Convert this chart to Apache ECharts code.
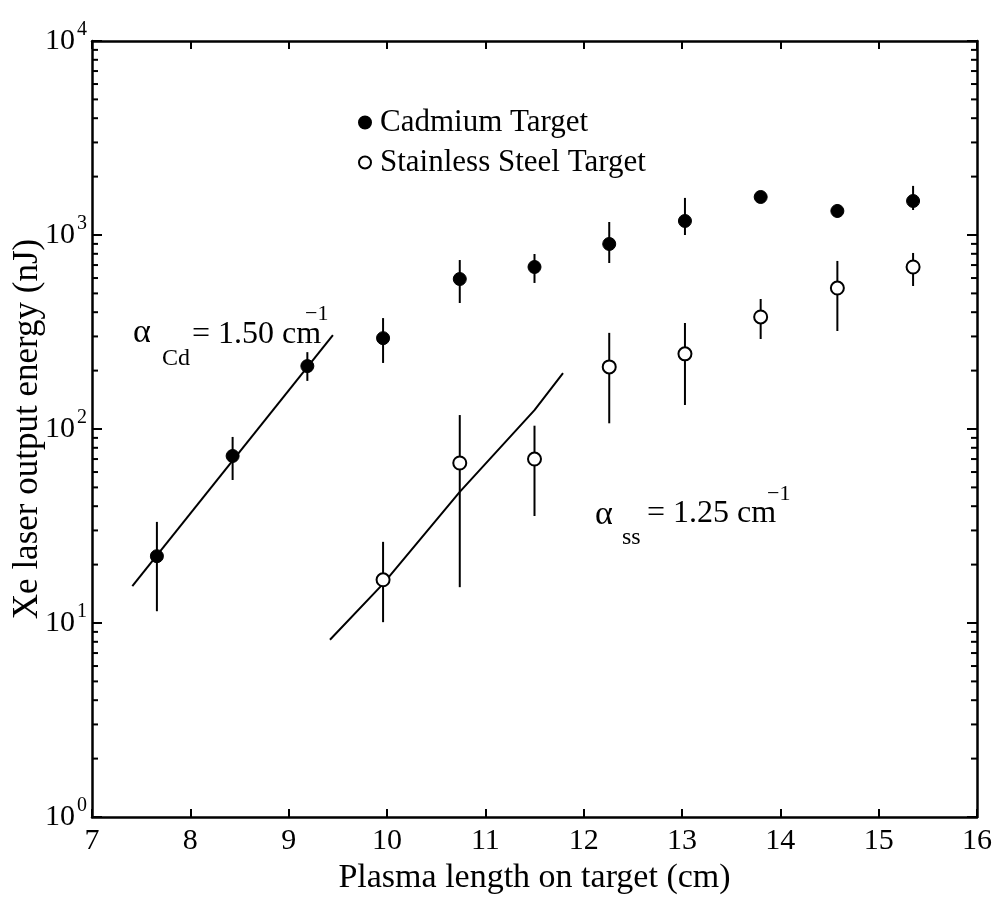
<!DOCTYPE html>
<html><head><meta charset="utf-8">
<script src="https://cdn.jsdelivr.net/npm/echarts@6/dist/echarts.min.js"></script>
<style>html,body{margin:0;padding:0;background:#fff}#c{width:997px;height:901px}</style>
</head><body><div id="c"></div>
<script>
// ---- data ----
const cdX   = [7.66, 8.43, 9.19, 9.96, 10.74, 11.50, 12.26, 13.03, 13.80, 14.58, 15.35];
const cdY   = [22.1, 72.6, 211, 294, 593, 684, 899, 1181, 1570, 1330, 1497];
const cdLo  = [11.5, 54.6, 177, 219, 446, 566, 717, 1000, 1480, 1230, 1345];
const cdHi  = [33.2, 91, 249, 373, 743, 798, 1167, 1553, 1670, 1440, 1791];

const ssX   = [9.96, 10.74, 11.50, 12.26, 13.03, 13.80, 14.58, 15.35];
const ssY   = [16.7, 66.8, 70, 209, 244, 378, 533, 684];
const ssLo  = [10.1, 15.3, 35.6, 107, 133, 291, 320, 546];
const ssHi  = [26.2, 118, 104, 313, 352, 468, 735, 808];

const cdFitX = [7.41, 9.45];
const cdFitY = [15.5, 305];
const ssFitX = [9.42, 9.96, 10.74, 11.50, 11.79];
const ssFitY = [8.2, 15.9, 47.4, 125, 194];

const xTicks = [7, 8, 9, 10, 11, 12, 13, 14, 15, 16];
const yDecades = [1, 10, 100, 1000];
const yMinorMult = [2, 3, 4, 5, 6, 7, 8, 9];

const seriesNames = ['Cadmium Target', 'Stainless Steel Target'];
// ---------------------------------------

const FF = 'Liberation Serif';
const zip = (a, b) => a.map((v, i) => [v, b[i]]);
const zip3 = (a, b, c) => a.map((v, i) => [v, b[i], c[i]]);

const minorVals = [];
yDecades.forEach(d => yMinorMult.forEach(m => minorVals.push([xTicks[0], d * m])));

function errRender(params, api) {
  const x = api.value(0), lo = api.value(1), hi = api.value(2);
  const p1 = api.coord([x, lo]), p2 = api.coord([x, hi]);
  return { type: 'line', shape: { x1: p1[0], y1: p1[1], x2: p2[0], y2: p2[1] },
           style: { stroke: '#000', lineWidth: 2 } };
}
function minorRender(params, api) {
  const cs = params.coordSys;
  const p = api.coord([api.value(0), api.value(1)]);
  const L = 6;
  return { type: 'group', children: [
    { type: 'line', shape: { x1: cs.x, y1: p[1], x2: cs.x + L, y2: p[1] }, style: { stroke: '#000', lineWidth: 2 } },
    { type: 'line', shape: { x1: cs.x + cs.width - L, y1: p[1], x2: cs.x + cs.width, y2: p[1] }, style: { stroke: '#000', lineWidth: 2 } }
  ]};
}

const axisLineStyle = { show: true, lineStyle: { color: '#000', width: 2.5 } };
const xMin = xTicks[0], xMax = xTicks[xTicks.length - 1];
const yMin = yDecades[0], yMax = yDecades[yDecades.length - 1] * 10;

const chart = echarts.init(document.getElementById('c'), null, { renderer: 'canvas' });
chart.setOption({
  backgroundColor: '#fff',
  animation: false,
  grid: { left: 92, right: 20, top: 41, bottom: 84, containLabel: false, outerBoundsMode: 'none' },
  legend: {
    orient: 'vertical', left: 353, top: 102, itemWidth: 20, itemHeight: 12, itemGap: 9,
    data: seriesNames,
    textStyle: { fontFamily: FF, fontSize: 31, color: '#000' }
  },
  xAxis: [
    { type: 'value', min: xMin, max: xMax, interval: 1, position: 'bottom',
      name: 'Plasma length on target (cm)', nameLocation: 'middle', nameGap: 42,
      nameTextStyle: { fontFamily: FF, fontSize: 34, color: '#000' },
      axisLine: axisLineStyle,
      axisTick: { inside: true, length: 8, lineStyle: { color: '#000', width: 2 } },
      axisLabel: { margin: 9, fontFamily: FF, fontSize: 30, color: '#000' },
      splitLine: { show: false } },
    { type: 'value', min: xMin, max: xMax, interval: 1, position: 'top',
      axisLine: axisLineStyle,
      axisTick: { inside: true, length: 8, lineStyle: { color: '#000', width: 2 } },
      axisLabel: { show: false }, splitLine: { show: false } }
  ],
  yAxis: [
    { type: 'log', logBase: 10, min: yMin, max: yMax, position: 'left',
      name: 'Xe laser output energy (nJ)', nameLocation: 'middle', nameGap: 47, nameMoveOverlap: false,
      nameTextStyle: { fontFamily: FF, fontSize: 35, color: '#000' },
      axisLine: axisLineStyle,
      axisTick: { inside: true, length: 10, lineStyle: { color: '#000', width: 2 } },
      axisLabel: {
        margin: 5,
        formatter: v => '{b|10}{e|' + Math.round(Math.log10(v)) + '}',
        rich: {
          b: { fontFamily: FF, fontSize: 30, color: '#000', lineHeight: 42 },
          e: { fontFamily: FF, fontSize: 20, color: '#000', verticalAlign: 'top', padding: [0, 0, 0, 2] }
        }
      },
      splitLine: { show: false } },
    { type: 'log', logBase: 10, min: yMin, max: yMax, position: 'right',
      axisLine: axisLineStyle,
      axisTick: { inside: true, length: 10, lineStyle: { color: '#000', width: 2 } },
      axisLabel: { show: false }, splitLine: { show: false } }
  ],
  series: [
    { type: 'custom', renderItem: minorRender, data: minorVals, encode: { x: 0, y: 1 }, silent: true, z: 1 },
    { type: 'line', data: zip(cdFitX, cdFitY), showSymbol: false, symbol: 'none',
      lineStyle: { color: '#000', width: 2 }, z: 2 },
    { type: 'line', data: zip(ssFitX, ssFitY), showSymbol: false, symbol: 'none',
      lineStyle: { color: '#000', width: 2 }, z: 2 },
    { type: 'custom', renderItem: errRender, data: zip3(cdX, cdLo, cdHi), encode: { x: 0, y: [1, 2] }, z: 3 },
    { type: 'custom', renderItem: errRender, data: zip3(ssX, ssLo, ssHi), encode: { x: 0, y: [1, 2] }, z: 3 },
    { name: seriesNames[0], type: 'scatter', data: zip(cdX, cdY), symbol: 'circle', symbolSize: 13,
      itemStyle: { color: '#000', borderColor: '#000', borderWidth: 1, opacity: 1 }, z: 4 },
    { name: seriesNames[1], type: 'scatter', data: zip(ssX, ssY), symbol: 'circle', symbolSize: 13,
      itemStyle: { color: '#fff', borderColor: '#000', borderWidth: 2, opacity: 1 }, z: 4 }
  ],
  graphic: [
    { type: 'text', x: 133, y: 333, style: { text: 'α', font: '34px "Liberation Serif"', fill: '#000', verticalAlign: 'middle' } },
    { type: 'text', x: 162, y: 359, style: { text: 'Cd', font: '24px "Liberation Serif"', fill: '#000', verticalAlign: 'middle' } },
    { type: 'text', x: 192, y: 335, style: { text: '= 1.50 cm', font: '32px "Liberation Serif"', fill: '#000', verticalAlign: 'middle' } },
    { type: 'text', x: 305, y: 314, style: { text: '−1', font: '22px "Liberation Serif"', fill: '#000', verticalAlign: 'middle' } },
    { type: 'text', x: 595, y: 515, style: { text: 'α', font: '34px "Liberation Serif"', fill: '#000', verticalAlign: 'middle' } },
    { type: 'text', x: 622, y: 538, style: { text: 'ss', font: '24px "Liberation Serif"', fill: '#000', verticalAlign: 'middle' } },
    { type: 'text', x: 647, y: 514, style: { text: '= 1.25 cm', font: '32px "Liberation Serif"', fill: '#000', verticalAlign: 'middle' } },
    { type: 'text', x: 767, y: 494, style: { text: '−1', font: '22px "Liberation Serif"', fill: '#000', verticalAlign: 'middle' } }
  ]
});
</script>
</body></html>
